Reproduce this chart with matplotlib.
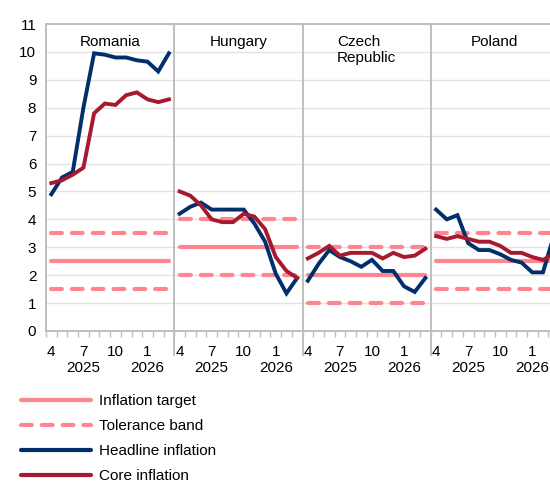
import matplotlib
matplotlib.use("Agg")
import matplotlib.pyplot as plt
from matplotlib.lines import Line2D
import matplotlib.transforms as mtransforms

plt.rcParams['font.family'] = ['Liberation Sans', 'DejaVu Sans']
plt.rcParams['font.size'] = 11

# data: monthly, April 2025 - March 2026
countries = ["Romania", "Hungary", "Czech\nRepublic", "Poland"]
month_labels = ["4", "", "", "7", "", "", "10", "", "", "1", "", ""]
year_labels = ["2025", "2026"]
year_pos = [3, 9]  # index of month under which the year sits

target = [2.5, 3.0, 2.0, 2.5]
band_low = [1.5, 2.0, 1.0, 1.5]
band_high = [3.5, 4.0, 3.0, 3.5]

headline = [
    [4.9, 5.5, 5.7, 8.0, 9.95, 9.9, 9.8, 9.8, 9.7, 9.65, 9.3, 9.95],
    [4.2, 4.45, 4.6, 4.35, 4.35, 4.35, 4.35, 3.85, 3.2, 2.05, 1.35, 1.9],
    [1.8, 2.4, 2.9, 2.65, 2.5, 2.3, 2.55, 2.15, 2.15, 1.6, 1.4, 1.9],
    [4.35, 4.0, 4.15, 3.15, 2.9, 2.9, 2.75, 2.55, 2.45, 2.1, 2.1, 3.4],
]
core = [
    [5.3, 5.4, 5.6, 5.85, 7.8, 8.15, 8.1, 8.45, 8.55, 8.3, 8.2, 8.3],
    [5.0, 4.85, 4.5, 4.0, 3.9, 3.9, 4.2, 4.1, 3.65, 2.65, 2.15, 1.9],
    [2.6, 2.8, 3.05, 2.7, 2.8, 2.8, 2.8, 2.6, 2.8, 2.65, 2.7, 2.95],
    [3.4, 3.3, 3.4, 3.3, 3.2, 3.2, 3.05, 2.8, 2.8, 2.65, 2.55, 2.75],
]

pink = "#FF8591"
navy = "#002F6C"
crimson = "#A6192E"
grey = "#BFBFBF"
dash = (2.6, 2.4)

fig = plt.figure(figsize=(5.5, 4.82), dpi=100)
# plot area runs past the right edge, like the cropped original
ax = fig.add_axes([46 / 550, 151 / 482, 513 / 550, 307 / 482])

n = len(month_labels)
ticks, labels = [], []
trans = mtransforms.blended_transform_factory(ax.transData, ax.transAxes)
for p in range(len(countries)):
    xs = [p * n + i + 0.5 for i in range(n)]
    ax.plot(xs, [target[p]] * n, color=pink, lw=3, solid_capstyle="round")
    for b in (band_low[p], band_high[p]):
        ax.plot(xs, [b] * n, color=pink, lw=3, dashes=dash, dash_capstyle="round")
    ax.plot(xs, headline[p], color=navy, lw=2.8, solid_joinstyle="miter")
    ax.plot(xs, core[p], color=crimson, lw=2.8, solid_joinstyle="miter")
    ticks += xs
    labels += month_labels
    ax.text(p * n + n / 2, 10.6, countries[p], ha="center", va="top",
            multialignment="left")
    for yl, yp in zip(year_labels, year_pos):
        ax.text(xs[yp], -0.122, yl, transform=trans, ha="center", va="center")
    if p > 0:
        ax.plot([p * n, p * n], [1, -0.078], transform=trans, color=grey,
                lw=1.4, clip_on=False)

ax.set_xlim(0, n * len(countries))
ax.set_ylim(0, 11)
ax.set_yticks(range(0, 12))
ax.set_xticks(ticks)
ax.set_xticklabels(labels)
ax.set_xticks(range(0, n * len(countries) + 1), minor=True)
ax.tick_params(axis="x", which="major", length=0, pad=10)
ax.tick_params(axis="x", which="minor", length=4, width=1, color=grey)
ax.tick_params(axis="y", length=0, pad=7)
ax.grid(axis="y", color="#E3E3E3", lw=1)
ax.set_axisbelow(True)
ax.spines["right"].set_visible(False)
for s in ("left", "bottom", "top"):
    ax.spines[s].set_color(grey)
    ax.spines[s].set_linewidth(1.4)

# unit note, cut off at the top as in the original
fig.text(20 / 550, 1.01, "(year-on-year, %)", ha="left", va="baseline")

handles = [
    Line2D([], [], color=pink, lw=3, solid_capstyle="round"),
    Line2D([], [], color=pink, lw=3, dashes=dash, dash_capstyle="round"),
    Line2D([], [], color=navy, lw=3, solid_capstyle="round"),
    Line2D([], [], color=crimson, lw=3, solid_capstyle="round"),
]
names = ["Inflation target", "Tolerance band", "Headline inflation", "Core inflation"]
fig.legend(handles, names, loc="upper left", bbox_to_anchor=(21 / 550, 1 - 394 / 482),
           frameon=False, borderpad=0, borderaxespad=0, handlelength=4.6,
           handletextpad=0.5, labelspacing=0.72)

fig.savefig("out.png", dpi=100)
